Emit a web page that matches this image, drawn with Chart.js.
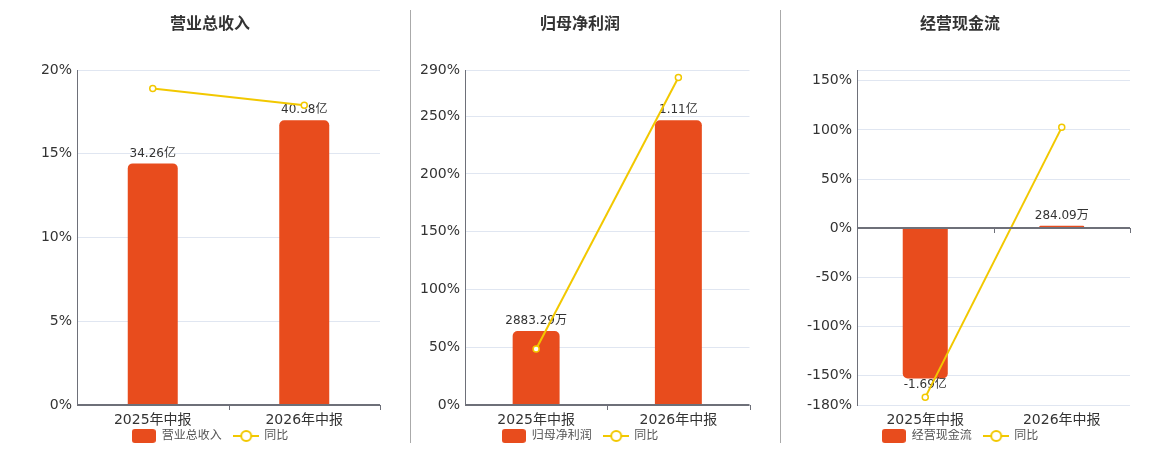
<!DOCTYPE html>
<html lang="zh">
<head>
<meta charset="UTF-8">
<title>财务指标</title>
<style>
    body { margin: 0; background: #fff; overflow: hidden; width: 1160px; height: 450px; position: relative; font-family: "DejaVu Sans", "Noto Sans CJK SC", sans-serif; }
    .panel { position: absolute; top: 0; height: 452px; }
    .title { position: absolute; top: 12px; left: 0; right: 0; text-align: center; font: bold 16px "Noto Sans CJK SC", sans-serif; color: #333; line-height: 20px; }
    .divider { position: absolute; top: 10px; height: 433px; width: 1px; background: #aaa; }
</style>
</head>
<body>
    <div class="divider" style="left: 410px;"></div>
    <div class="divider" style="left: 780px;"></div>

    <div class="panel" style="left: 0; width: 420px;"><div class="title">营业总收入</div><canvas id="c1"></canvas></div>
    <div class="panel" style="left: 405px; width: 350px;"><div class="title">归母净利润</div><canvas id="c2"></canvas></div>
    <div class="panel" style="left: 780px; width: 360px;"><div class="title">经营现金流</div><canvas id="c3"></canvas></div>

    <script src="https://cdn.jsdelivr.net/npm/chart.js"></script>
    <script>
        // 数据 (金额单位: 亿, 同比单位: %)
        const periods = ['2025年中报', '2026年中报'];

        const revenue = [34.26, 40.38];
        const revenueText = ['34.26亿', '40.38亿'];
        const revenueYoy = [18.9, 17.9];
        const revenueTicks = [0, 5, 10, 15, 20];
        const revenueRange = [0, 20];

        const profit = [0.2883, 1.11];
        const profitText = ['2883.29万', '1.11亿'];
        const profitYoy = [48.5, 283.5];
        const profitTicks = [0, 50, 100, 150, 200, 250, 290];
        const profitRange = [0, 290];

        const cash = [-1.69, 0.0284];
        const cashText = ['-1.69亿', '284.09万'];
        const cashYoy = [-172.2, 102.6];
        const cashTicks = [-180, -150, -100, -50, 0, 50, 100, 150];
        const cashRange = [-180, 161];

        const barColor = '#e84c1d';
        const lineColor = '#f2c800';
        const axisColor = '#6e7079';

        Chart.defaults.font.family = '"DejaVu Sans", "Noto Sans CJK SC", sans-serif';
        Chart.defaults.color = '#333';

        // 图例图标
        function barIcon() {
            const c = document.createElement('canvas');
            c.width = 24; c.height = 14;
            const g = c.getContext('2d');
            g.fillStyle = barColor;
            g.beginPath();
            g.roundRect(0, 0, 24, 14, 3);
            g.fill();
            return c;
        }
        function lineIcon() {
            const c = document.createElement('canvas');
            c.width = 26; c.height = 14;
            const g = c.getContext('2d');
            g.strokeStyle = lineColor;
            g.lineWidth = 2;
            g.beginPath();
            g.moveTo(0, 7); g.lineTo(26, 7);
            g.stroke();
            g.beginPath();
            g.arc(13, 7, 5, 0, Math.PI * 2);
            g.fillStyle = '#fff';
            g.fill();
            g.stroke();
            return c;
        }
        const icons = { bar: barIcon(), line: lineIcon() };

        // 柱子上方的数值
        const valueLabels = {
            id: 'valueLabels',
            afterDatasetDraw(chart, args) {
                const ds = chart.data.datasets[args.index];
                if (ds.type !== 'bar') return;
                const ctx = chart.ctx;
                ctx.save();
                ctx.font = '12px "DejaVu Sans", "Noto Sans CJK SC", sans-serif';
                ctx.fillStyle = '#333';
                ctx.textAlign = 'center';
                ctx.textBaseline = 'middle';
                args.meta.data.forEach((bar, i) => {
                    const y = ds.data[i] >= 0 ? bar.y - 10 : bar.y + 6;
                    ctx.fillText(ds.valueText[i], bar.x, y);
                });
                ctx.restore();
            }
        };

        // 零轴 + 刻度
        const zeroAxis = {
            id: 'zeroAxis',
            afterDraw(chart) {
                const { ctx, chartArea } = chart;
                const x = chart.scales.x;
                const y0 = Math.round(chart.scales.y.getPixelForValue(0));
                const half = (x.getPixelForValue(1) - x.getPixelForValue(0)) / 2;
                ctx.save();
                ctx.strokeStyle = axisColor;
                ctx.lineWidth = 2;
                ctx.beginPath();
                ctx.moveTo(chartArea.left, y0);
                ctx.lineTo(chartArea.right, y0);
                ctx.stroke();
                ctx.lineWidth = 1;
                ctx.beginPath();
                for (let i = 0; i < periods.length; i++) {
                    const bx = Math.round(x.getPixelForValue(i) + half) + 0.5;
                    ctx.moveTo(bx, y0);
                    ctx.lineTo(bx, y0 + 5);
                }
                ctx.stroke();
                ctx.restore();
            }
        };

        function makeChart(id, name, values, text, yoy, ticks, range, axisWidth, padRight) {
            // 柱子用副轴, 最大柱约占 85% 高度, 零点与主轴对齐
            const maxAbs = Math.max(...values.map(Math.abs));
            const big = values.find(v => Math.abs(v) === maxAbs);
            const k = maxAbs / (0.85 * Math.abs(big >= 0 ? range[1] : range[0]));

            return new Chart(document.getElementById(id), {
                data: {
                    labels: periods,
                    datasets: [
                        {
                            type: 'bar',
                            label: name,
                            data: values,
                            valueText: text,
                            yAxisID: 'y1',
                            order: 1,
                            backgroundColor: barColor,
                            borderRadius: 5,
                            categoryPercentage: 1,
                            barPercentage: 0.33
                        },
                        {
                            type: 'line',
                            label: '同比',
                            data: yoy,
                            yAxisID: 'y',
                            order: 0,
                            borderColor: lineColor,
                            borderWidth: 2,
                            pointRadius: 3,
                            pointBackgroundColor: '#fff',
                            pointBorderColor: lineColor,
                            pointBorderWidth: 1.5,
                            tension: 0
                        }
                    ]
                },
                plugins: [valueLabels, zeroAxis],
                options: {
                    responsive: true,
                    maintainAspectRatio: false,
                    animation: false,
                    layout: { padding: { top: 70, right: 0, left: 0, bottom: 0 } },
                    plugins: {
                        tooltip: { enabled: false },
                        legend: {
                            position: 'bottom',
                            labels: {
                                usePointStyle: true,
                                pointStyleWidth: 24,
                                padding: 1,
                                color: '#555',
                                font: { size: 12 },
                                sort: (a, b) => a.datasetIndex - b.datasetIndex,
                                generateLabels(chart) {
                                    const items = Chart.defaults.plugins.legend.labels.generateLabels(chart);
                                    items.forEach(it => {
                                        const type = chart.data.datasets[it.datasetIndex].type;
                                        it.pointStyle = icons[type];
                                        if (type === 'bar') it.text += '   ';
                                    });
                                    return items;
                                }
                            }
                        }
                    },
                    scales: {
                        x: {
                            offset: true,
                            grid: { display: false, drawTicks: false },
                            border: { display: false },
                            ticks: { padding: 7, font: { size: 14 }, color: '#333' },
                            afterFit(s) { s.height = 24; }
                        },
                        y: {
                            position: 'left',
                            min: range[0],
                            max: range[1],
                            afterBuildTicks(s) {
                                const t = ticks.slice();
                                if (!t.includes(range[1])) t.push(range[1]);
                                s.ticks = t.map(v => ({ value: v }));
                            },
                            ticks: {
                                padding: 5,
                                font: { size: 14 },
                                color: '#333',
                                callback: v => ticks.includes(v) ? v + '%' : ''
                            },
                            grid: { color: '#e0e6f1', drawTicks: false },
                            border: { display: true, color: axisColor, width: 1 },
                            afterFit(s) { s.width = axisWidth; }
                        },
                        y1: {
                            position: 'right',
                            min: range[0] * k,
                            max: range[1] * k,
                            grid: { display: false },
                            border: { display: false },
                            ticks: { display: false },
                            afterFit(s) { s.width = padRight; }
                        }
                    }
                }
            });
        }

        makeChart('c1', '营业总收入', revenue, revenueText, revenueYoy, revenueTicks, revenueRange, 77, 40);
        makeChart('c2', '归母净利润', profit, profitText, profitYoy, profitTicks, profitRange, 60, 5);
        makeChart('c3', '经营现金流', cash, cashText, cashYoy, cashTicks, cashRange, 77, 10);
    </script>
</body>
</html>
